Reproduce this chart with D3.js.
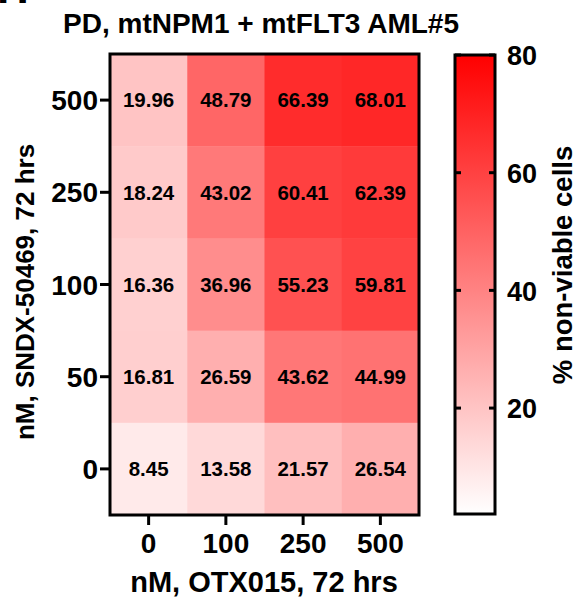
<!DOCTYPE html>
<html>
<head>
<meta charset="utf-8">
<script src="https://cdn.jsdelivr.net/npm/d3@7"></script>
<style>
  body { margin: 0; background: #fff; }
  svg text { font-family: "Liberation Sans", Arial, sans-serif; font-weight: bold; fill: #000; }
</style>
</head>
<body>
<div id="container"></div>
<script>
// data
const otxDoses = ["0", "100", "250", "500"];          // x categories
const sndxDoses = ["500", "250", "100", "50", "0"];   // y categories, top to bottom
const row500 = [19.96, 48.79, 66.39, 68.01];
const row250 = [18.24, 43.02, 60.41, 62.39];
const row100 = [16.36, 36.96, 55.23, 59.81];
const row50  = [16.81, 26.59, 43.62, 44.99];
const row0   = [8.45, 13.58, 21.57, 26.54];
const legendTicks = [20, 40, 60, 80];
const legendDomain = [2, 80];

const rows = [row500, row250, row100, row50, row0];

const width = 578, height = 602;
const plot = {left: 110, right: 419, top: 54, bottom: 515};

let cells = [];
rows.forEach((r, i) => r.forEach((v, j) => {
  cells.push({x: otxDoses[j], y: sndxDoses[i], value: v});
}));

const svg = d3.select("#container").append("svg")
  .attr("width", width)
  .attr("height", height);

// SCALES
const xScale = d3.scaleBand().domain(otxDoses).range([plot.left, plot.right]);
const yScale = d3.scaleBand().domain(sndxDoses).range([plot.top, plot.bottom]);
const colorScale = d3.scaleLinear().domain(legendDomain).range(["#ffffff", "#ff0000"]).clamp(true);

// panel letter, mostly cut off at top (as in the source figure)
svg.append("text")
  .attr("x", -3).attr("y", 3)
  .style("font-size", "44px")
  .text("H");

// title
svg.append("text")
  .attr("x", 261).attr("y", 33)
  .attr("text-anchor", "middle")
  .style("font-size", "28px")
  .text("PD, mtNPM1 + mtFLT3 AML#5");

// CELLS
svg.append("g").selectAll("rect")
  .data(cells)
  .join("rect")
    .attr("x", d => xScale(d.x))
    .attr("y", d => yScale(d.y))
    .attr("width", xScale.bandwidth() + 0.5)
    .attr("height", yScale.bandwidth() + 0.5)
    .attr("fill", d => colorScale(d.value));

svg.append("g").selectAll("text")
  .data(cells)
  .join("text")
    .attr("x", d => xScale(d.x) + xScale.bandwidth() / 2)
    .attr("y", d => yScale(d.y) + yScale.bandwidth() / 2)
    .attr("dy", "0.36em")
    .attr("text-anchor", "middle")
    .style("font-size", "20.5px")
    .text(d => d.value.toFixed(2));

// frame
svg.append("rect")
  .attr("x", plot.left).attr("y", plot.top)
  .attr("width", plot.right - plot.left)
  .attr("height", plot.bottom - plot.top)
  .attr("fill", "none")
  .attr("stroke", "#000")
  .attr("stroke-width", 3);

// AXES
const xAxis = d3.axisBottom(xScale).tickSize(10).tickPadding(8).tickSizeOuter(0);
const yAxis = d3.axisLeft(yScale).tickSize(10).tickPadding(2).tickSizeOuter(0);

const gx = svg.append("g")
  .attr("transform", `translate(0,${plot.bottom})`)
  .call(xAxis);
const gy = svg.append("g")
  .attr("transform", `translate(${plot.left},0)`)
  .call(yAxis);

[gx, gy].forEach(g => {
  g.select(".domain").remove();
  g.selectAll(".tick line").attr("stroke", "#000").attr("stroke-width", 3);
  g.selectAll(".tick text").style("font-size", "28px").attr("fill", "#000");
});
gy.selectAll(".tick text").attr("dy", "0.36em");

svg.append("text")
  .attr("x", 264).attr("y", 592)
  .attr("text-anchor", "middle")
  .style("font-size", "29px")
  .text("nM, OTX015, 72 hrs");

svg.append("text")
  .attr("transform", "translate(34,292) rotate(-90)")
  .attr("text-anchor", "middle")
  .style("font-size", "26px")
  .text("nM, SNDX-50469, 72 hrs");

// COLOR BAR
const bar = {x: 455, w: 40};
const legendScale = d3.scaleLinear().domain(legendDomain).range([514, 55]);

const grad = svg.append("defs").append("linearGradient")
  .attr("id", "grad")
  .attr("x1", 0).attr("y1", 1).attr("x2", 0).attr("y2", 0);
grad.append("stop").attr("offset", 0).attr("stop-color", colorScale(legendDomain[0]));
grad.append("stop").attr("offset", 1).attr("stop-color", colorScale(legendDomain[1]));

svg.append("rect")
  .attr("x", bar.x).attr("y", legendScale(legendDomain[1]))
  .attr("width", bar.w)
  .attr("height", legendScale(legendDomain[0]) - legendScale(legendDomain[1]))
  .attr("fill", "url(#grad)")
  .attr("stroke", "#000")
  .attr("stroke-width", 3);

const legendAxis = d3.axisRight(legendScale).tickValues(legendTicks).tickSize(0).tickPadding(12);
const gl = svg.append("g")
  .attr("transform", `translate(${bar.x + bar.w},0)`)
  .call(legendAxis);
gl.select(".domain").remove();
gl.selectAll(".tick text").style("font-size", "27px").attr("fill", "#000").attr("dy", "0.36em");

// small inner ticks on both sides of the bar
svg.append("g").selectAll("line")
  .data(legendTicks.flatMap(t => [{t, side: 0}, {t, side: 1}]))
  .join("line")
    .attr("x1", d => d.side ? bar.x + bar.w - 6 : bar.x)
    .attr("x2", d => d.side ? bar.x + bar.w : bar.x + 6)
    .attr("y1", d => legendScale(d.t))
    .attr("y2", d => legendScale(d.t))
    .attr("stroke", "#000")
    .attr("stroke-width", 3);

svg.append("text")
  .attr("transform", "translate(572,265) rotate(-90)")
  .attr("text-anchor", "middle")
  .style("font-size", "27.5px")
  .text("% non-viable cells");
</script>
</body>
</html>
